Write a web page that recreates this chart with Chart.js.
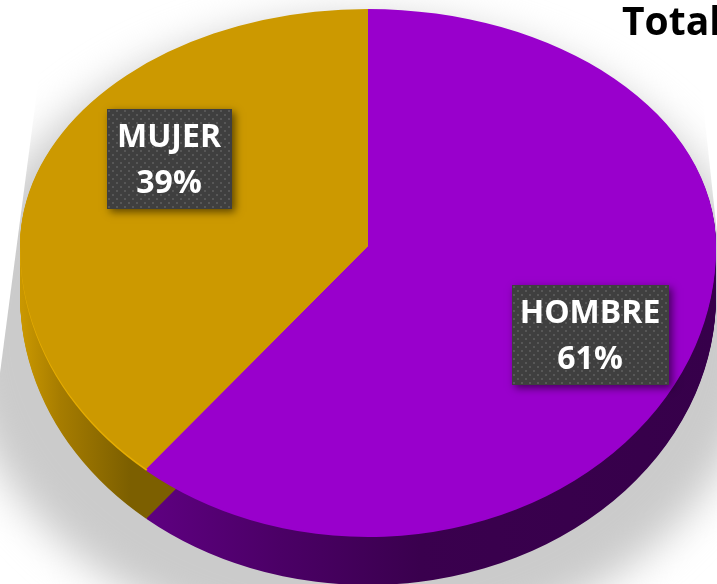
<!DOCTYPE html>
<html>
<head>
<meta charset="utf-8">
<style>
  html, body { margin: 0; padding: 0; background: #fff; overflow: hidden; }
  canvas { display: block; }
</style>
<script src="https://cdn.jsdelivr.net/npm/chart.js@4"></script>
</head>
<body>
<canvas id="pie" width="717" height="584"></canvas>
<script>
const categories = ['HOMBRE', 'MUJER'];
const shares = [61, 39];
const titleText = 'Total';

const topColors = ['#9900cc', '#cc9900'];
const rimColors = ['#9900cc', '#e6ad00'];
const sideStops = [
    [[135, '#600083'], [280, '#4b0066'], [420, '#3a004e'], [716, '#36004a']],
    [[22, '#c99700'], [60, '#a67c00'], [130, '#7c5f00']]
];
// label box position and size, per category
const labelBoxes = [
    { x: 512, y: 285, w: 157, h: 100 },
    { x: 107, y: 109, w: 125, h: 100 }
];

const W = 717, H = 584;
const APEX_X = 368, APEX_Y = 246, R = 238;
const RX = 348, RY_UP = 237, RY_DOWN = 289, DEPTH = 50;

function drawArc(ctx, arc, fill, dy) {
    const cx = arc.x, cy = arc.y, yCut = Math.round(cy + dy);
    const view = Object.create(arc);
    view.options = Object.assign({}, arc.options, { backgroundColor: fill, borderWidth: 0 });
    [[0, yCut, RY_UP], [yCut, H - yCut, RY_DOWN]].forEach(([top, height, ry]) => {
        ctx.save();
        ctx.beginPath();
        ctx.rect(0, top, W, height);
        ctx.clip();
        ctx.translate(cx, cy + dy);
        ctx.scale(RX / R, ry / R);
        ctx.translate(-cx, -cy);
        arc.draw.call(view, ctx);
        ctx.restore();
    });
}

// stops are in screen x, the gradient gets used inside the scaled space
function sideGradient(ctx, cx, stops) {
    const toLocal = x => cx + (x - cx) * R / RX;
    const x0 = stops[0][0], x1 = stops[stops.length - 1][0];
    const g = ctx.createLinearGradient(toLocal(x0), 0, toLocal(x1), 0);
    stops.forEach(s => g.addColorStop((s[0] - x0) / (x1 - x0), s[1]));
    return g;
}

function dotPattern(ctx) {
    const c = document.createElement('canvas');
    c.width = 8; c.height = 8;
    const p = c.getContext('2d');
    p.fillStyle = '#3f3f3f';
    p.fillRect(0, 0, 8, 8);
    p.fillStyle = '#575757';
    p.fillRect(1, 1, 2, 2);
    p.fillRect(5, 5, 2, 2);
    return ctx.createPattern(c, 'repeat');
}

const pie3d = {
    id: 'pie3d',
    beforeDatasetsDraw(chart) {
        const ctx = chart.ctx;
        const arcs = chart.getDatasetMeta(0).data;

        // soft shadow behind the pie, cut by straight side edges
        ctx.save();
        ctx.beginPath();
        ctx.moveTo(49, 0); ctx.lineTo(692, 0); ctx.lineTo(717, 233);
        ctx.lineTo(717, 584); ctx.lineTo(0, 584); ctx.lineTo(0, 373);
        ctx.closePath();
        ctx.clip();
        ctx.filter = 'blur(20px)';
        ctx.fillStyle = '#cbcbcb';
        ctx.beginPath();
        ctx.ellipse(360, 333, 400, 315, 0, 0, Math.PI * 2);
        ctx.fill();
        ctx.restore();

        // side wall
        arcs.forEach((arc, i) => {
            const g = sideGradient(ctx, arc.x, sideStops[i]);
            for (let d = DEPTH; d > 0; d--) drawArc(ctx, arc, g, d);
        });
        arcs.forEach((arc, i) => drawArc(ctx, arc, rimColors[i], 2));
        arcs.forEach((arc, i) => drawArc(ctx, arc, topColors[i], 0));
        return false;
    },
    // the datasets hook is cancelled above, so labels go here
    afterDraw(chart) {
        const ctx = chart.ctx;
        const dots = dotPattern(ctx);
        categories.forEach((name, i) => {
            const b = labelBoxes[i];
            ctx.save();
            ctx.shadowColor = 'rgba(0,0,0,0.55)';
            ctx.shadowBlur = 8;
            ctx.shadowOffsetX = 3;
            ctx.shadowOffsetY = 3;
            ctx.fillStyle = '#3f3f3f';
            ctx.fillRect(b.x, b.y, b.w, b.h);
            ctx.restore();

            ctx.save();
            ctx.translate(b.x, b.y);
            ctx.fillStyle = dots;
            ctx.fillRect(0, 0, b.w, b.h);
            ctx.restore();

            ctx.save();
            ctx.fillStyle = '#fff';
            ctx.font = 'bold 32px "Open Sans", sans-serif';
            ctx.textAlign = 'center';
            ctx.textBaseline = 'alphabetic';
            const mid = b.x + b.w / 2 - 0.5;
            ctx.fillText(name, mid, b.y + 38);
            ctx.fillText(shares[i] + '%', mid, b.y + 84);
            ctx.restore();
        });

        ctx.save();
        ctx.fillStyle = '#000';
        ctx.font = 'bold 39px "Open Sans", sans-serif';
        ctx.textAlign = 'left';
        ctx.textBaseline = 'alphabetic';
        ctx.fillText(titleText, 622, 35);
        ctx.restore();
    }
};

new Chart(document.getElementById('pie'), {
    type: 'pie',
    data: {
        labels: categories,
        datasets: [{ data: shares, backgroundColor: topColors, borderWidth: 0 }]
    },
    options: {
        responsive: false,
        animation: false,
        layout: {
            padding: {
                left: APEX_X - R,
                right: W - APEX_X - R,
                top: APEX_Y - R,
                bottom: H - APEX_Y - R
            }
        },
        plugins: { legend: { display: false }, tooltip: { enabled: false } }
    },
    plugins: [pie3d]
});
</script>
</body>
</html>
